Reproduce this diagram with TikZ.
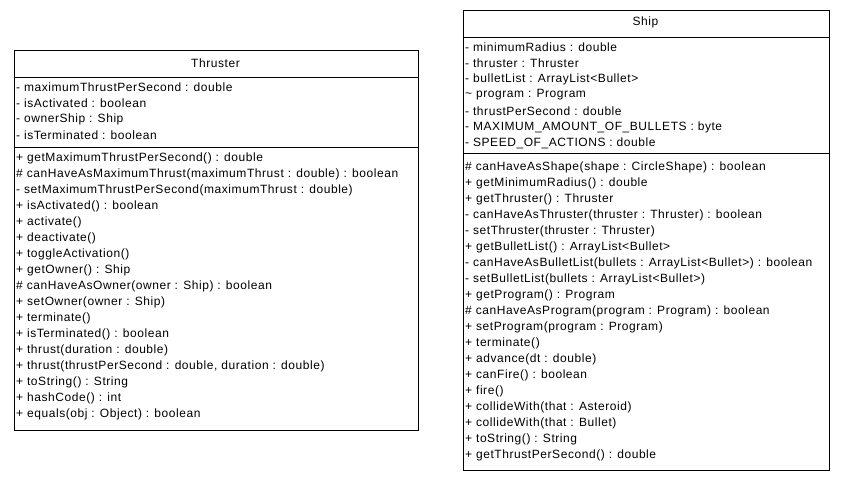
\documentclass[tikz,border=0pt]{standalone}
\usepackage{fontspec}
\setmainfont{Liberation Sans}[LetterSpace=4.7]
\begin{document}
\begin{tikzpicture}[x=1pt,y=-1pt,
  box/.style={draw=black,line width=0.9pt,fill=white,inner sep=0pt,anchor=north west},
  sep/.style={draw=black,line width=0.9pt},
  ttl/.style={font=\fontsize{12}{14}\selectfont,inner sep=0pt,anchor=center},
  mem/.style={font=\fontsize{12}{14}\selectfont,inner sep=0pt,anchor=west}]
\useasboundingbox[fill=white] (0,0) rectangle (844,480);
% Thruster
\node[box,minimum width=404pt,minimum height=380pt] (thr) at (13.5,50) {};
\coordinate (thrA1) at (13.5,77); \coordinate (thrA2) at (417.5,77);
\coordinate (thrB1) at (13.5,147); \coordinate (thrB2) at (417.5,147);
\draw[sep] (thrA1) -- (thrA2);
\draw[sep] (thrB1) -- (thrB2);
\node[ttl] (thrT) at (215.5,63) {Thruster};
\node[mem] (ta1) at (16,87) {- maximumThrustPerSecond : double};
\node[mem] (ta2) at (16,103) {- isActivated : boolean};
\node[mem] (ta3) at (16,119) {- ownerShip : Ship};
\node[mem] (ta4) at (16,135) {- isTerminated : boolean};
\node[mem] (tm1) at (16,158) {+ getMaximumThrustPerSecond() : double};
\node[mem] (tm2) at (16,174) {\# canHaveAsMaximumThrust(maximumThrust : double) : boolean};
\node[mem] (tm3) at (16,190) {- setMaximumThrustPerSecond(maximumThrust : double)};
\node[mem] (tm4) at (16,206) {+ isActivated() : boolean};
\node[mem] (tm5) at (16,222) {+ activate()};
\node[mem] (tm6) at (16,238) {+ deactivate()};
\node[mem] (tm7) at (16,254) {+ toggleActivation()};
\node[mem] (tm8) at (16,270) {+ getOwner() : Ship};
\node[mem] (tm9) at (16,286) {\# canHaveAsOwner(owner : Ship) : boolean};
\node[mem] (tm10) at (16,302) {+ setOwner(owner : Ship)};
\node[mem] (tm11) at (16,318) {+ terminate()};
\node[mem] (tm12) at (16,334) {+ isTerminated() : boolean};
\node[mem] (tm13) at (16,350) {+ thrust(duration : double)};
\node[mem] (tm14) at (16,366) {+ thrust(thrustPerSecond : double, duration : double)};
\node[mem] (tm15) at (16,382) {+ toString() : String};
\node[mem] (tm16) at (16,398) {+ hashCode() : int};
\node[mem] (tm17) at (16,414) {+ equals(obj : Object) : boolean};
% Ship
\node[box,minimum width=366pt,minimum height=460pt] (shp) at (462.5,10) {};
\coordinate (shpA1) at (462.5,37); \coordinate (shpA2) at (828.5,37);
\coordinate (shpB1) at (462.5,153); \coordinate (shpB2) at (828.5,153);
\draw[sep] (shpA1) -- (shpA2);
\draw[sep] (shpB1) -- (shpB2);
\node[ttl] (shpT) at (645.5,22) {Ship};
\node[mem] (sa1) at (465,47) {- minimumRadius : double};
\node[mem] (sa2) at (465,63) {- thruster : Thruster};
\node[mem] (sa3) at (465,79) {- bulletList : ArrayList<Bullet>};
\node[mem] (sa4) at (465,95) {\textasciitilde{} program : Program};
\node[mem] (sa5) at (465,111) {- thrustPerSecond : double};
\node[mem] (sa6) at (465,127) {- MAXIMUM\_AMOUNT\_OF\_BULLETS : byte};
\node[mem] (sa7) at (465,143) {- SPEED\_OF\_ACTIONS : double};
\node[mem] (sm1) at (465,167) {\# canHaveAsShape(shape : CircleShape) : boolean};
\node[mem] (sm2) at (465,183) {+ getMinimumRadius() : double};
\node[mem] (sm3) at (465,199) {+ getThruster() : Thruster};
\node[mem] (sm4) at (465,215) {- canHaveAsThruster(thruster : Thruster) : boolean};
\node[mem] (sm5) at (465,231) {- setThruster(thruster : Thruster)};
\node[mem] (sm6) at (465,247) {+ getBulletList() : ArrayList<Bullet>};
\node[mem] (sm7) at (465,263) {- canHaveAsBulletList(bullets : ArrayList<Bullet>) : boolean};
\node[mem] (sm8) at (465,279) {- setBulletList(bullets : ArrayList<Bullet>)};
\node[mem] (sm9) at (465,295) {+ getProgram() : Program};
\node[mem] (sm10) at (465,311) {\# canHaveAsProgram(program : Program) : boolean};
\node[mem] (sm11) at (465,327) {+ setProgram(program : Program)};
\node[mem] (sm12) at (465,343) {+ terminate()};
\node[mem] (sm13) at (465,359) {+ advance(dt : double)};
\node[mem] (sm14) at (465,375) {+ canFire() : boolean};
\node[mem] (sm15) at (465,391) {+ fire()};
\node[mem] (sm16) at (465,407) {+ collideWith(that : Asteroid)};
\node[mem] (sm17) at (465,423) {+ collideWith(that : Bullet)};
\node[mem] (sm18) at (465,439) {+ toString() : String};
\node[mem] (sm19) at (465,455) {+ getThrustPerSecond() : double};
\end{tikzpicture}
\end{document}
